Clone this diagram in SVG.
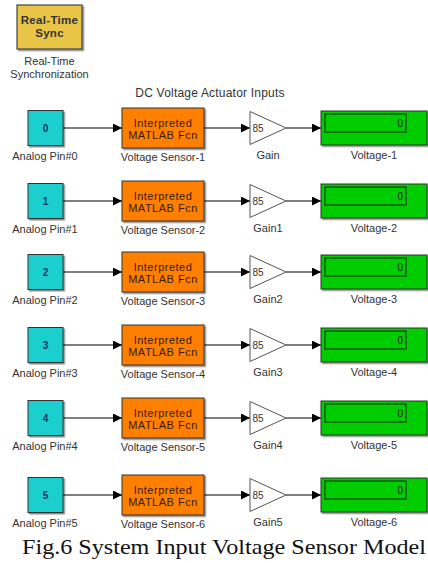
<svg xmlns="http://www.w3.org/2000/svg" width="428" height="563" viewBox="0 0 428 563">
<defs>
<marker id="ah" viewBox="0 0 10 10" refX="10" refY="5" markerWidth="9" markerHeight="9" markerUnits="userSpaceOnUse" orient="auto"><path d="M0,0 L10,5 L0,10 z" fill="#000"/></marker>
<filter id="sh" x="-10%" y="-10%" width="130%" height="130%"><feDropShadow dx="1.5" dy="1.5" stdDeviation="0.6" flood-color="#000" flood-opacity="0.45"/></filter>
</defs>
<style>
text{font-family:"Liberation Sans",Arial,sans-serif;}
.cap{font-family:"Liberation Serif","Times New Roman",serif;font-size:21.5px;fill:#111;}
.lbl{font-size:11px;fill:#333;text-anchor:middle;}
.ttl{font-size:12px;fill:#333;text-anchor:middle;letter-spacing:0.2px;}
.pin{fill:#1ccfcf;stroke:#333;stroke-width:1;filter:url(#sh);}
.pint{font-size:10px;font-weight:bold;fill:#10336a;text-anchor:middle;}
.fcn{fill:#ff8000;stroke:#333;stroke-width:1;filter:url(#sh);}
.fcnt{font-size:11px;fill:#3a1a00;text-anchor:middle;letter-spacing:0.5px;}
.gain{fill:#fff;stroke:#555;stroke-width:1;}
.gaint{font-size:10px;fill:#333;}
.disp{fill:#00cc00;stroke:#333;stroke-width:1;filter:url(#sh);}
.dispin{fill:#00cc00;stroke:#1a3a1a;stroke-width:1.2;}
.dispt{font-size:10px;fill:#222;text-anchor:end;}
.wire{stroke:#000;stroke-width:1;fill:none;marker-end:url(#ah);}
.synct{font-size:11.5px;font-weight:bold;fill:#333;text-anchor:middle;letter-spacing:0.3px;}
</style>
<g id="sync">
<rect x="17" y="5" width="65" height="44" fill="#e8c547" stroke="#444" stroke-width="1.2" filter="url(#sh)"/>
<text class="synct" x="49.5" y="24">Real-Time</text>
<text class="synct" x="49.5" y="37">Sync</text>
<text class="lbl" x="49.5" y="65">Real-Time</text>
<text class="lbl" x="49.5" y="78">Synchronization</text>
</g>
<text class="ttl" x="210" y="97">DC Voltage Actuator Inputs</text>

<g id="connectors">
<line class="wire" x1="63" y1="128" x2="122" y2="128"/><line class="wire" x1="204" y1="128" x2="250" y2="128"/><line class="wire" x1="286" y1="128" x2="321" y2="128"/>
<line class="wire" x1="63" y1="201" x2="122" y2="201"/><line class="wire" x1="204" y1="201" x2="250" y2="201"/><line class="wire" x1="286" y1="201" x2="321" y2="201"/>
<line class="wire" x1="63" y1="272" x2="122" y2="272"/><line class="wire" x1="204" y1="272" x2="250" y2="272"/><line class="wire" x1="286" y1="272" x2="321" y2="272"/>
<line class="wire" x1="63" y1="345" x2="122" y2="345"/><line class="wire" x1="204" y1="345" x2="250" y2="345"/><line class="wire" x1="286" y1="345" x2="321" y2="345"/>
<line class="wire" x1="63" y1="418" x2="122" y2="418"/><line class="wire" x1="204" y1="418" x2="250" y2="418"/><line class="wire" x1="286" y1="418" x2="321" y2="418"/>
<line class="wire" x1="63" y1="495" x2="122" y2="495"/><line class="wire" x1="204" y1="495" x2="250" y2="495"/><line class="wire" x1="286" y1="495" x2="321" y2="495"/>
</g>

<g id="row0" transform="translate(0,128)">
<g id="pin0"><rect class="pin" x="28" y="-17.5" width="35" height="35"/><text class="pint" x="45.5" y="3.5">0</text><text class="lbl" x="45" y="32">Analog Pin#0</text></g>
<g id="sensor1"><rect class="fcn" x="122" y="-20" width="82" height="40"/><text class="fcnt" x="163" y="-1">Interpreted</text><text class="fcnt" x="163" y="11">MATLAB Fcn</text><text class="lbl" x="163" y="33">Voltage Sensor-1</text></g>
<g id="gain0"><path class="gain" d="M250,-16.5 L286,0 L250,16.5 z"/><text class="gaint" x="252.5" y="3.5">85</text><text class="lbl" x="268" y="31">Gain</text></g>
<g id="volt1"><rect class="disp" x="321" y="-17" width="106" height="34"/><rect class="dispin" x="325" y="-14" width="81" height="18"/><text class="dispt" x="403" y="-1.5">0</text><text class="lbl" x="374" y="31">Voltage-1</text></g>
</g>

<g id="row1" transform="translate(0,201)">
<g id="pin1"><rect class="pin" x="28" y="-17.5" width="35" height="35"/><text class="pint" x="45.5" y="3.5">1</text><text class="lbl" x="45" y="32">Analog Pin#1</text></g>
<g id="sensor2"><rect class="fcn" x="122" y="-20" width="82" height="40"/><text class="fcnt" x="163" y="-1">Interpreted</text><text class="fcnt" x="163" y="11">MATLAB Fcn</text><text class="lbl" x="163" y="33">Voltage Sensor-2</text></g>
<g id="gain1"><path class="gain" d="M250,-16.5 L286,0 L250,16.5 z"/><text class="gaint" x="252.5" y="3.5">85</text><text class="lbl" x="268" y="31">Gain1</text></g>
<g id="volt2"><rect class="disp" x="321" y="-17" width="106" height="34"/><rect class="dispin" x="325" y="-14" width="81" height="18"/><text class="dispt" x="403" y="-1.5">0</text><text class="lbl" x="374" y="31">Voltage-2</text></g>
</g>

<g id="row2" transform="translate(0,272)">
<g id="pin2"><rect class="pin" x="28" y="-17.5" width="35" height="35"/><text class="pint" x="45.5" y="3.5">2</text><text class="lbl" x="45" y="32">Analog Pin#2</text></g>
<g id="sensor3"><rect class="fcn" x="122" y="-20" width="82" height="40"/><text class="fcnt" x="163" y="-1">Interpreted</text><text class="fcnt" x="163" y="11">MATLAB Fcn</text><text class="lbl" x="163" y="33">Voltage Sensor-3</text></g>
<g id="gain2"><path class="gain" d="M250,-16.5 L286,0 L250,16.5 z"/><text class="gaint" x="252.5" y="3.5">85</text><text class="lbl" x="268" y="31">Gain2</text></g>
<g id="volt3"><rect class="disp" x="321" y="-17" width="106" height="34"/><rect class="dispin" x="325" y="-14" width="81" height="18"/><text class="dispt" x="403" y="-1.5">0</text><text class="lbl" x="374" y="31">Voltage-3</text></g>
</g>

<g id="row3" transform="translate(0,345)">
<g id="pin3"><rect class="pin" x="28" y="-17.5" width="35" height="35"/><text class="pint" x="45.5" y="3.5">3</text><text class="lbl" x="45" y="32">Analog Pin#3</text></g>
<g id="sensor4"><rect class="fcn" x="122" y="-20" width="82" height="40"/><text class="fcnt" x="163" y="-1">Interpreted</text><text class="fcnt" x="163" y="11">MATLAB Fcn</text><text class="lbl" x="163" y="33">Voltage Sensor-4</text></g>
<g id="gain3"><path class="gain" d="M250,-16.5 L286,0 L250,16.5 z"/><text class="gaint" x="252.5" y="3.5">85</text><text class="lbl" x="268" y="31">Gain3</text></g>
<g id="volt4"><rect class="disp" x="321" y="-17" width="106" height="34"/><rect class="dispin" x="325" y="-14" width="81" height="18"/><text class="dispt" x="403" y="-1.5">0</text><text class="lbl" x="374" y="31">Voltage-4</text></g>
</g>

<g id="row4" transform="translate(0,418)">
<g id="pin4"><rect class="pin" x="28" y="-17.5" width="35" height="35"/><text class="pint" x="45.5" y="3.5">4</text><text class="lbl" x="45" y="32">Analog Pin#4</text></g>
<g id="sensor5"><rect class="fcn" x="122" y="-20" width="82" height="40"/><text class="fcnt" x="163" y="-1">Interpreted</text><text class="fcnt" x="163" y="11">MATLAB Fcn</text><text class="lbl" x="163" y="33">Voltage Sensor-5</text></g>
<g id="gain4"><path class="gain" d="M250,-16.5 L286,0 L250,16.5 z"/><text class="gaint" x="252.5" y="3.5">85</text><text class="lbl" x="268" y="31">Gain4</text></g>
<g id="volt5"><rect class="disp" x="321" y="-17" width="106" height="34"/><rect class="dispin" x="325" y="-14" width="81" height="18"/><text class="dispt" x="403" y="-1.5">0</text><text class="lbl" x="374" y="31">Voltage-5</text></g>
</g>

<g id="row5" transform="translate(0,495)">
<g id="pin5"><rect class="pin" x="28" y="-17.5" width="35" height="35"/><text class="pint" x="45.5" y="3.5">5</text><text class="lbl" x="45" y="32">Analog Pin#5</text></g>
<g id="sensor6"><rect class="fcn" x="122" y="-20" width="82" height="40"/><text class="fcnt" x="163" y="-1">Interpreted</text><text class="fcnt" x="163" y="11">MATLAB Fcn</text><text class="lbl" x="163" y="33">Voltage Sensor-6</text></g>
<g id="gain5"><path class="gain" d="M250,-16.5 L286,0 L250,16.5 z"/><text class="gaint" x="252.5" y="3.5">85</text><text class="lbl" x="268" y="31">Gain5</text></g>
<g id="volt6"><rect class="disp" x="321" y="-17" width="106" height="34"/><rect class="dispin" x="325" y="-14" width="81" height="18"/><text class="dispt" x="403" y="-1.5">0</text><text class="lbl" x="374" y="31">Voltage-6</text></g>
</g>

<text class="cap" x="22" y="554" textLength="404" lengthAdjust="spacingAndGlyphs">Fig.6 System Input Voltage Sensor Model</text>
</svg>
